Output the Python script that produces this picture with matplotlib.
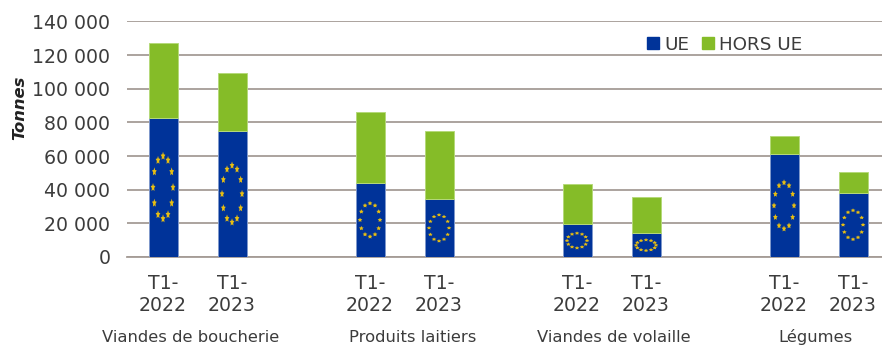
import numpy as np
import matplotlib
matplotlib.use("Agg")
import matplotlib.pyplot as plt
from matplotlib.collections import PolyCollection
from matplotlib.lines import Line2D
from matplotlib.ticker import FuncFormatter

# Quantities in tonnes
groups = ["Viandes de boucherie", "Produits laitiers", "Viandes de volaille", "Légumes"]
group_centers = [0.40, 3.62, 6.54, 9.45]
periods = ["T1-\n2022", "T1-\n2023"]
ue = [82700, 75000, 44000, 34500, 19500, 14000, 61000, 38200]
hors_ue = [44500, 34300, 42000, 40500, 24000, 21800, 11000, 12500]
yticks = [0, 20000, 40000, 60000, 80000, 100000, 120000, 140000]

BLUE, GREEN = "#003399", "#85BC28"
BLUE_EDGE, GREEN_EDGE = "#7F99CC", "#B5D97A"
GOLD = "#E8BE12"
TEXT = "#3C3C3C"
GRID = "#A59C96"

fig = plt.figure(figsize=(8.82, 3.46), dpi=100)
ax = fig.add_axes([127 / 882, 1 - 257 / 346, 755 / 882, (257 - 21.4) / 346])

x = np.array([0, 1, 3, 4, 6, 7, 9, 10], dtype=float)
width = 0.42
ue = np.array(ue, dtype=float)
hors_ue = np.array(hors_ue, dtype=float)

ax.bar(x, ue, width, color=BLUE, edgecolor=BLUE_EDGE, linewidth=0.7, zorder=3)
ax.bar(x, hors_ue, width, bottom=ue, color=GREEN, edgecolor=GREEN_EDGE, linewidth=0.7, zorder=3)


def star(cx, cy, rx, ry):
    """Five-pointed star outline with the given radii, in data units."""
    a = np.pi / 2 + np.arange(10) * np.pi / 5
    r = np.where(np.arange(10) % 2 == 0, 1.0, 0.5)
    return np.column_stack([cx + rx * r * np.cos(a), cy + ry * r * np.sin(a)])


# Ring of twelve stars, stretched with the height of each blue segment
polys = []
for xi, h in zip(x, ue):
    ring_x, ring_y = 0.145, 0.225 * h
    for t in np.arange(12) * np.pi / 6:
        polys.append(star(xi + ring_x * np.sin(t), h / 2 + ring_y * np.cos(t),
                          0.036, max(0.032 * h, 1100)))
ax.add_collection(PolyCollection(polys, facecolors=GOLD, edgecolors="none", zorder=4))

ax.set_xlim(-0.522, 10.42)
ax.set_ylim(0, 140000)
ax.set_yticks(yticks)
ax.yaxis.set_major_formatter(FuncFormatter(lambda v, _: f"{int(v):,}".replace(",", " ")))
ax.set_xticks(x)
ax.set_xticklabels(periods * 4)
ax.tick_params(axis="y", length=0, pad=12, labelsize=13.6, labelcolor=TEXT)
ax.tick_params(axis="x", length=0, pad=12, labelsize=13.6, labelcolor=TEXT)
for label in ax.get_xticklabels():
    label.set_linespacing(1.25)

ax.grid(axis="y", color=GRID, linewidth=1.3, zorder=0)
ax.set_axisbelow(True)
for name in ("top", "right", "left"):
    ax.spines[name].set_visible(False)
ax.spines["bottom"].set_color(GRID)
ax.spines["bottom"].set_linewidth(1.3)

trans = ax.get_xaxis_transform()
for center, name in zip(group_centers, groups):
    ax.text(center, (257 - 342) / 235.6, name, transform=trans, ha="center", va="baseline",
            fontsize=11.8, color=TEXT, clip_on=False)

fig.text(20 / 882, 1 - 108 / 346, "Tonnes", rotation=90, ha="center", va="center",
         fontsize=11.8, fontweight="bold", fontstyle="italic", color="#222222")

handles = [
    Line2D([], [], linestyle="none", marker="s", markersize=8.2, color=BLUE, label="UE"),
    Line2D([], [], linestyle="none", marker="s", markersize=8.2, color=GREEN, label="HORS UE"),
]
ax.legend(handles=handles, ncols=2, frameon=False, fontsize=13.2, labelcolor=TEXT,
          loc="center left", bbox_to_anchor=((645 - 127) / 755, (257 - 44.5) / 235.6),
          borderaxespad=0, borderpad=0, handlelength=0.9, handletextpad=0.13,
          columnspacing=0.59)

fig.savefig("out.png", dpi=100)
